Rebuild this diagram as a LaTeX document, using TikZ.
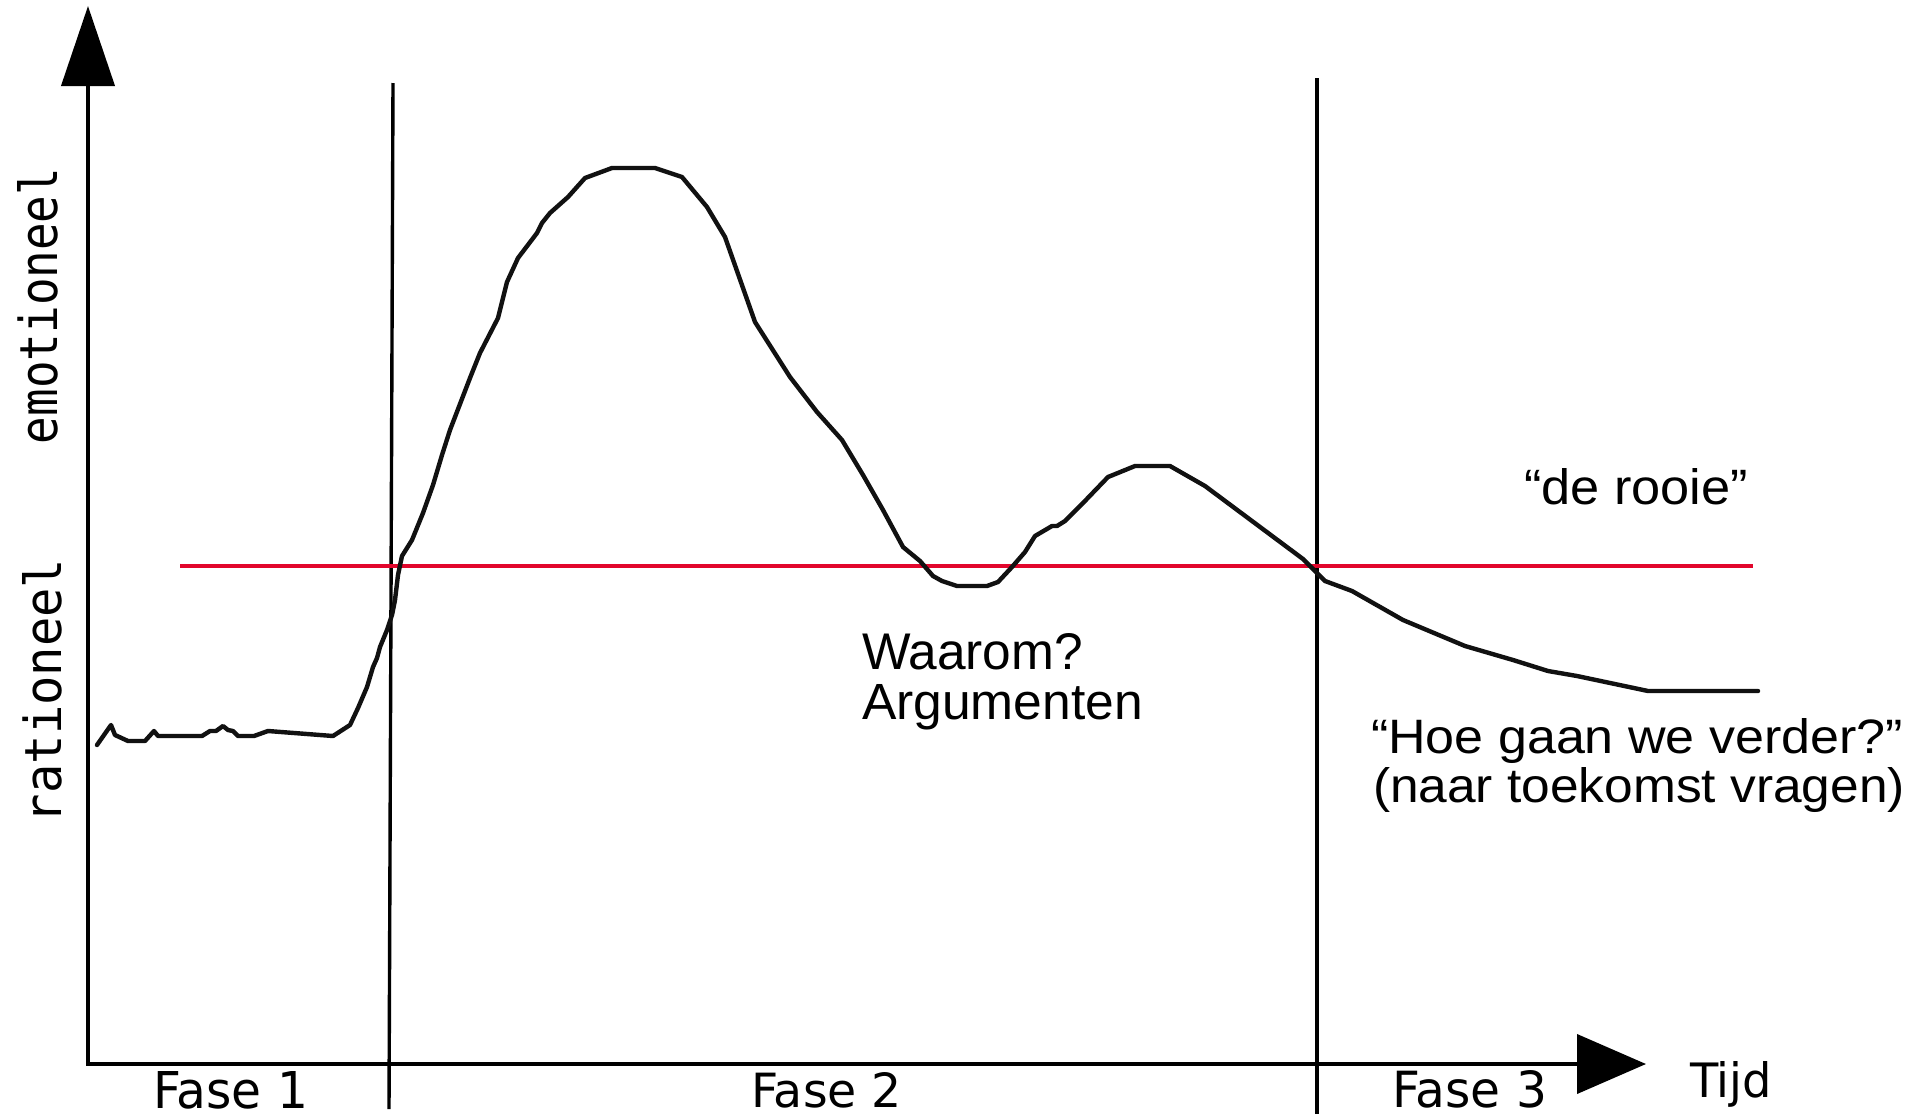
\documentclass[tikz,border=0pt]{standalone}
\usepackage{fontspec}
\usepackage{graphicx}
\usetikzlibrary{arrows.meta}
\newfontfamily\dejavu{DejaVu Sans}
\newfontfamily\libsans{Liberation Sans}
\newfontfamily\monofam{DejaVu Sans Mono}
\definecolor{curvered}{RGB}{226,6,44}
\definecolor{ink}{RGB}{17,17,17}
\tikzset{
  axisline/.style={line width=4pt, black},
  divider/.style={line width=3.4pt, black},
  emocurve/.style={line width=4.4pt, ink, line join=round, line cap=round},
  redline/.style={line width=4.5pt, curvered},
  lbl/.style={inner sep=0pt, outer sep=0pt, anchor=base west},
}
\begin{document}
\begin{tikzpicture}[x=1pt,y=-1pt]
\useasboundingbox (0,0) rectangle (1916,1117);
\fill[white] (0,0) rectangle (1916,1117);

% axes
\coordinate (O) at (88,1064);
\coordinate (ytip) at (88,6);
\coordinate (xtip) at (1646,1064);
\draw[axisline, {Triangle[length=80pt,width=53pt]}-{Triangle[length=69pt,width=59pt]}] (ytip) -- (O) -- (xtip);

% phase dividers
\coordinate (d1top) at (393,83);
\coordinate (d1bot) at (389,1109);
\coordinate (d2top) at (1317,78);
\coordinate (d2bot) at (1317,1114);
\draw[divider] (d1top) -- (d1bot);
\draw[divider] (d2top) -- (d2bot);

% red line
\coordinate (r1) at (180,566);
\coordinate (r2) at (1753,566);
\draw[redline] (r1) -- (r2);

% curve
\draw[emocurve] (97,745) -- (111,725) -- (115,735) -- (128,741) -- (145,741) -- (154,731) -- (158,736) -- (202,736) -- (210,731) -- (216,731) -- (223,726) -- (228,730) -- (233,731) -- (238,736) -- (254,736) -- (268,731) -- (333,736) -- (350,725) -- (358,708) -- (367,687) -- (373,667) -- (377,658) -- (380,647) -- (387,630) -- (392,615) -- (395,600) -- (398,575) -- (402,556) -- (412,540) -- (423,513) -- (433,485) -- (442,455) -- (450,430) -- (470,378) -- (480,353) -- (498,318) -- (507,282) -- (518,258) -- (537,233) -- (542,223) -- (550,213) -- (568,197) -- (585,178) -- (612,168) -- (655,168) -- (682,177) -- (707,207) -- (725,237) -- (755,322) -- (790,377) -- (817,412) -- (842,440) -- (863,475) -- (883,510) -- (903,547) -- (920,561) -- (933,576) -- (942,581) -- (957,586) -- (987,586) -- (998,582) -- (1012,567) -- (1025,552) -- (1035,536) -- (1052,526) -- (1057,526) -- (1065,521) -- (1083,503) -- (1108,477) -- (1135,466) -- (1170,466) -- (1205,486) -- (1303,559) -- (1317,573) -- (1325,581) -- (1352,591) -- (1403,620) -- (1465,646) -- (1513,660) -- (1548,671) -- (1577,676) -- (1648,691) -- (1758,691);

% axis labels
\node[lbl, rotate=90] (emo) at (57,444) {\resizebox{276pt}{40pt}{\monofam emotioneel}};
\node[lbl, rotate=90] (rat) at (61,823) {\resizebox{264pt}{39pt}{\monofam rationeel}};
\node[lbl] (tijd) at (1690,1097) {\resizebox{82pt}{36pt}{\dejavu Tijd}};

% phase labels
\node[lbl] (f1) at (153,1108) {\resizebox{155pt}{37pt}{\dejavu Fase 1}};
\node[lbl] (f2) at (751,1107) {\resizebox{151pt}{35pt}{\dejavu Fase 2}};
\node[lbl] (f3) at (1392,1107) {\resizebox{155pt}{37pt}{\dejavu Fase 3}};

% annotations
\node[lbl] (waarom) at (862,669) {\resizebox{221pt}{36pt}{\libsans Waarom?}};
\node[lbl] (arg) at (862,719) {\resizebox{281pt}{35pt}{\libsans Argumenten}};
\node[lbl] (rooie) at (1524,504) {\resizebox{224pt}{36pt}{\libsans “de rooie”}};
\node[lbl] (hoe) at (1371,753) {\resizebox{532pt}{35pt}{\libsans “Hoe gaan we verder?”}};
\node[lbl] (naar) at (1373,802) {\resizebox{532pt}{35pt}{\libsans (naar toekomst vragen)}};
\end{tikzpicture}
\end{document}
